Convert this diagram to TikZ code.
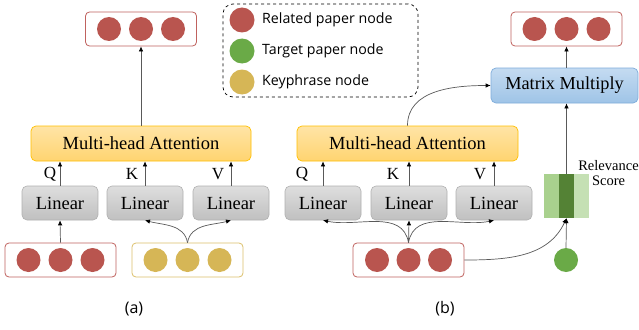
\documentclass[tikz,border=0pt]{standalone}
\usepackage{fontspec}
\setmainfont{Liberation Serif}
\newfontfamily\legendfont{Open Sans}
\usetikzlibrary{arrows.meta}
\definecolor{nodered}{HTML}{B9554F}
\definecolor{nodeyellow}{HTML}{D6B656}
\definecolor{nodegreen}{HTML}{6AAA47}
\definecolor{boxred}{HTML}{C0625E}
\definecolor{boxyellow}{HTML}{DCC06A}
\definecolor{linecol}{HTML}{595959}
\definecolor{attBorder}{HTML}{FFC000}
\definecolor{attTop}{HTML}{FFE4A6}
\definecolor{attBot}{HTML}{FFD470}
\definecolor{linTop}{HTML}{DEDEDE}
\definecolor{linBot}{HTML}{C0C0C0}
\definecolor{linBorder}{HTML}{B0B0B0}
\definecolor{mmTop}{HTML}{C4DBF1}
\definecolor{mmBot}{HTML}{9FC4E7}
\definecolor{mmBorder}{HTML}{7EACDB}
\definecolor{barA}{HTML}{A9D18E}
\definecolor{barB}{HTML}{548235}
\definecolor{barC}{HTML}{C5E0B4}
\tikzset{
  dot/.style={circle, minimum size=24pt, inner sep=0pt, draw=none},
  reddot/.style={dot, fill=nodered},
  yellowdot/.style={dot, fill=nodeyellow},
  greendot/.style={dot, fill=nodegreen},
  vecbox/.style={draw, line width=0.8pt, rounded corners=4pt, minimum width=111pt, minimum height=34pt, inner sep=0pt, fill=white},
  redvec/.style={vecbox, draw=boxred},
  yellowvec/.style={vecbox, draw=boxyellow},
  attbox/.style={draw=attBorder, rounded corners=5pt, line width=0.7pt, minimum width=220pt, minimum height=35pt, inner sep=0pt,
     top color=attTop, bottom color=attBot, font=\fontsize{18.5}{20}\selectfont},
  linbox/.style={draw=linBorder, rounded corners=5pt, line width=0.6pt, minimum width=76pt, minimum height=34pt, inner sep=0pt,
     top color=linTop, bottom color=linBot, font=\fontsize{18.5}{20}\selectfont},
  mmbox/.style={draw=mmBorder, rounded corners=5pt, line width=0.7pt, minimum width=147pt, minimum height=35pt, inner sep=0pt,
     top color=mmTop, bottom color=mmBot, font=\fontsize{18.3}{20}\selectfont},
  arr/.style={draw=linecol, line width=0.7pt, -{Latex[length=5pt,width=4.5pt,color=black]}},
  qkv/.style={font=\fontsize{17}{18}\selectfont, inner sep=0pt},
  legtext/.style={font=\legendfont\fontsize{14.2}{15}\selectfont, anchor=west, inner sep=0pt},
  bar/.style={minimum width=15pt, minimum height=44pt, inner sep=0pt, draw=none},
  caption/.style={font=\legendfont\fontsize{16}{18}\selectfont}
}
\begin{document}
\begin{tikzpicture}[x=1pt,y=-1pt]
\useasboundingbox[fill=white] (0,0) rectangle (639,329);

% ---------- panel (a) ----------
\node[redvec] (outA) at (141,29) {};
\node[reddot] (oa1) at (109,29) {};
\node[reddot] (oa2) at (141,29) {};
\node[reddot] (oa3) at (173,29) {};

\node[attbox] (mhaA) at (141,143.5) {Multi-head Attention};
\node[linbox] (linA1) at (60,203) {Linear};
\node[linbox] (linA2) at (145,203) {Linear};
\node[linbox] (linA3) at (231,203) {Linear};

\node[redvec] (inA1) at (60.5,260) {};
\node[reddot] (ia1) at (28.5,260) {};
\node[reddot] (ia2) at (60.5,260) {};
\node[reddot] (ia3) at (92.5,260) {};
\node[yellowvec] (inA2) at (187.5,260) {};
\node[yellowdot] (ya1) at (155.5,260) {};
\node[yellowdot] (ya2) at (187.5,260) {};
\node[yellowdot] (ya3) at (219.5,260) {};

\draw[arr] (linA1.north) -- (linA1.north |- mhaA.south);
\draw[arr] (linA2.north) -- (linA2.north |- mhaA.south);
\draw[arr] (linA3.north) -- (linA3.north |- mhaA.south);
\node[qkv] (qa) at (50,174) {Q};
\node[qkv] (ka) at (132,174) {K};
\node[qkv] (va) at (218,174) {V};
\draw[arr] (mhaA.north) -- (outA.south);
\draw[arr] (inA1.north) -- (linA1.south);
\draw[arr] (inA2.north) to[out=100,in=-15] (linA2.south);
\draw[arr] (inA2.north) to[out=80,in=195] (linA3.south);
\node[caption] (capA) at (134,309) {(a)};

% ---------- legend ----------
\node[draw, dashed, line width=0.7pt, rounded corners=10pt, minimum width=195pt, minimum height=93pt, inner sep=0pt] (legend) at (320.5,50.5) {};
\node[reddot, minimum size=25pt] (lg1) at (242,20) {};
\node[greendot, minimum size=25pt] (lg2) at (242,51) {};
\node[yellowdot, minimum size=25pt] (lg3) at (242,82) {};
\node[legtext] (lt1) at (262,20) {Related paper node};
\node[legtext] (lt2) at (262,51) {Target paper node};
\node[legtext] (lt3) at (262,82) {Keyphrase node};

% ---------- panel (b) ----------
\node[attbox, minimum width=221pt] (mhaB) at (407.5,143.5) {Multi-head Attention};
\node[linbox] (linB1) at (323,203) {Linear};
\node[linbox] (linB2) at (409,203) {Linear};
\node[linbox] (linB3) at (494,203) {Linear};

\node[redvec] (inB) at (408.5,260) {};
\node[reddot] (ib1) at (377,260) {};
\node[reddot] (ib2) at (408.5,260) {};
\node[reddot] (ib3) at (440,260) {};

\node[greendot] (tgt) at (566,260) {};
\node[bar, fill=barA] (barL) at (551.5,196) {};
\node[bar, fill=barB] (barM) at (566.5,196) {};
\node[bar, fill=barC] (barR) at (581.5,196) {};
\node[font=\fontsize{14.5}{15}\selectfont, align=center, inner sep=0pt] (rel) at (608.5,173) {Relevance\\Score};

\node[mmbox] (mm) at (564.5,85.5) {Matrix Multiply};
\node[redvec] (outB) at (566.5,29) {};
\node[reddot] (ob1) at (534.5,29) {};
\node[reddot] (ob2) at (566.5,29) {};
\node[reddot] (ob3) at (598.5,29) {};

\draw[arr] (linB1.north) -- (linB1.north |- mhaB.south);
\draw[arr] (linB2.north) -- (linB2.north |- mhaB.south);
\draw[arr] (linB3.north) -- (linB3.north |- mhaB.south);
\node[qkv] (qb) at (302,174) {Q};
\node[qkv] (kb) at (393,174) {K};
\node[qkv] (vb) at (480,174) {V};

\draw[arr] (inB.north) -- (linB2.south);
\draw[arr] (inB.north) to[out=100,in=-12] (linB1.south);
\draw[arr] (inB.north) to[out=80,in=192] (linB3.south);
\draw[arr] (inB.east) to[out=0,in=245] (barM.south);
\draw[arr] (tgt.north) -- (barM.south);
\draw[arr] (barM.north) -- (barM.north |- mm.south);
\draw[arr] (mm.north -| outB.south) -- (outB.south);
\draw[arr] (mhaB.north) to[out=90,in=180] (mm.west);
\node[caption] (capB) at (445,309) {(b)};
\end{tikzpicture}
\end{document}
